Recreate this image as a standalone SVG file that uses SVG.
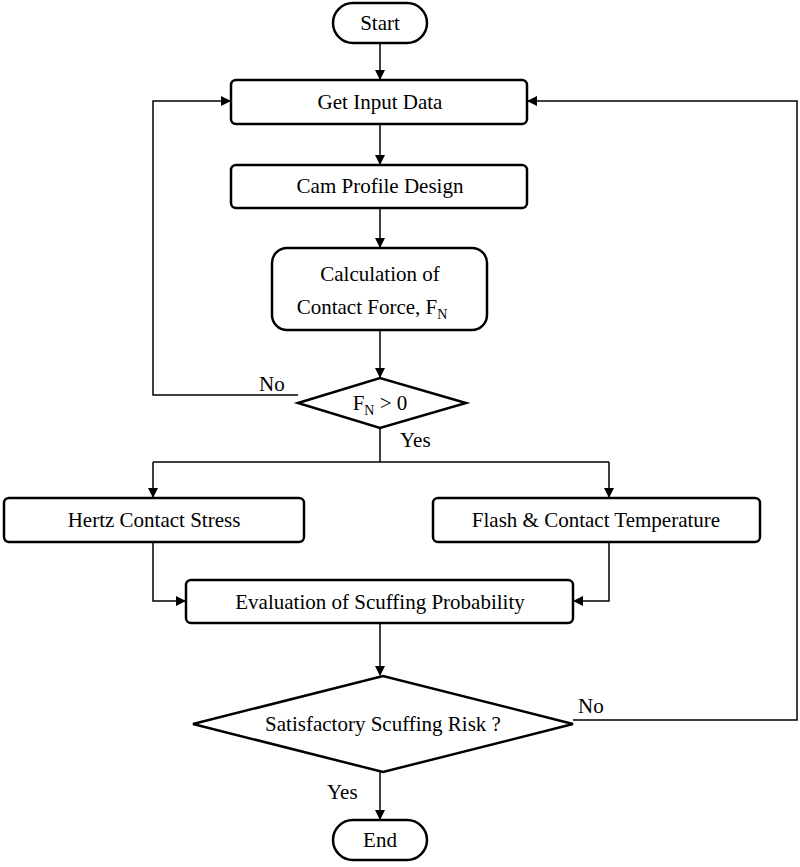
<svg xmlns="http://www.w3.org/2000/svg" width="800" height="867" viewBox="0 0 800 867">
<style>
.n{fill:#fff;stroke:#000;stroke-width:2.5}
.c{fill:none;stroke:#000;stroke-width:1.5}
text{font-family:"Liberation Serif",serif;font-size:21px;fill:#000}
.m{text-anchor:middle}
</style>
<defs><marker id="a" markerWidth="10" markerHeight="10" refX="9" refY="5" orient="auto" markerUnits="userSpaceOnUse"><path d="M0,0L10,5L0,10z" fill="#000"/></marker></defs>
<rect width="800" height="867" fill="#fff"/>
<g id="connectors">
<path class="c" d="M380,43V79" marker-end="url(#a)"/>
<path class="c" d="M380,124V164" marker-end="url(#a)"/>
<path class="c" d="M380,208V247" marker-end="url(#a)"/>
<path class="c" d="M380,330V377" marker-end="url(#a)"/>
<path class="c" d="M298,395H153V101H230" marker-end="url(#a)"/>
<path class="c" d="M380,428V462M153,462H609"/>
<path class="c" d="M153,462V497" marker-end="url(#a)"/>
<path class="c" d="M609,462V497" marker-end="url(#a)"/>
<path class="c" d="M153,542V601H185" marker-end="url(#a)"/>
<path class="c" d="M609,542V601H574" marker-end="url(#a)"/>
<path class="c" d="M380,623V675" marker-end="url(#a)"/>
<path class="c" d="M573,720H797V101H528" marker-end="url(#a)"/>
<path class="c" d="M380,772V819" marker-end="url(#a)"/>
</g>
<g id="start"><rect class="n" x="333" y="3" width="94" height="40" rx="20"/><text class="m" x="380" y="30">Start</text></g>
<g id="input"><rect class="n" x="231" y="80" width="296" height="44" rx="5"/><text class="m" x="380" y="109">Get Input Data</text></g>
<g id="cam"><rect class="n" x="231" y="165" width="296" height="43" rx="5"/><text class="m" x="380" y="193">Cam Profile Design</text></g>
<g id="calc"><rect class="n" x="272" y="248" width="215" height="82" rx="15"/><text class="m" x="380" y="281">Calculation of</text><text class="m" x="372" y="314">Contact Force, F<tspan font-size="14" dy="5">N</tspan></text></g>
<g id="fn"><path class="n" d="M298,403L380,378L466,403L380,428z"/><text class="m" x="380" y="410">F<tspan font-size="14" dy="5">N</tspan><tspan dy="-5"> &gt; 0</tspan></text></g>
<text x="259" y="391">No</text><text x="400" y="447">Yes</text>
<g id="hertz"><rect class="n" x="4" y="498" width="300" height="44" rx="5"/><text class="m" x="154" y="527">Hertz Contact Stress</text></g>
<g id="flash"><rect class="n" x="433" y="498" width="327" height="44" rx="5"/><text class="m" x="596" y="527">Flash &amp; Contact Temperature</text></g>
<g id="eval"><rect class="n" x="186" y="580" width="387" height="43" rx="5"/><text class="m" x="380" y="609">Evaluation of Scuffing Probability</text></g>
<g id="risk"><path class="n" d="M193,724L383,676L573,724L383,772z"/><text class="m" x="383" y="731">Satisfactory Scuffing Risk ?</text></g>
<text x="578" y="713">No</text><text x="327" y="799">Yes</text>
<g id="end"><rect class="n" x="333" y="820" width="94" height="40" rx="20"/><text class="m" x="380" y="847">End</text></g>
</svg>
